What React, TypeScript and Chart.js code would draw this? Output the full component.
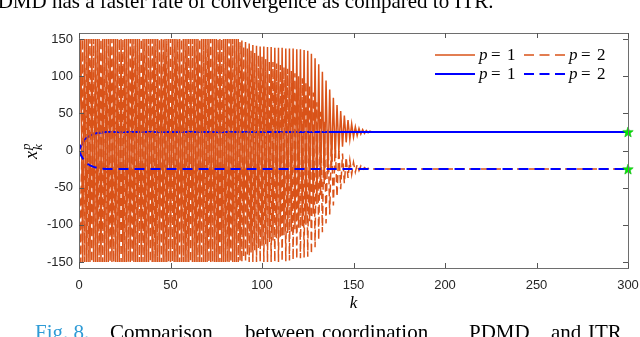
import React, { useEffect, useRef } from "react";
import { Chart, registerables } from "chart.js";

Chart.register(...registerables);

// ---- data ----
const xTicks = [0, 50, 100, 150, 200, 250, 300];
const yTicks = [-150, -100, -50, 0, 50, 100, 150];

// Orange iterates (values at k = 0,1,2,...,160), p = 1 (solid) and p = 2 (dashed)
const orangeP1 = [
  0,
  150, -150, 150, -150, 150, -150, 150, -150, 150, -150, 150, -150, 150, -150, 150, -150, 150, -150, 150, -150,
  150, -150, 150, -150, 150, -150, 150, -150, 150, -150, 150, -150, 150, -150, 150, -150, 150, -150, 150, -150,
  150, -150, 150, -150, 150, -150, 150, -150, 150, -150, 150, -150, 150, -150, 150, -150, 150, -150, 150, -150,
  150, -150, 150, -150, 150, -150, 150, -150, 150, -150, 150, -150, 150, -150, 150, -150, 150, -150, 150, -150,
  150, -150, 150, -150, 150, -150,
  150, -148, 148, -142, 146, -140, 144, -137, 142, -134,
  141, -131, 140, -128, 140, -126, 139, -123, 139, -121,
  138, -118, 138, -116, 138, -114, 137, -111, 137, -109,
  137, -106, 136, -104, 136, -102, 135, -100, 134, -95,
  130, -85, 124, -72, 116, -60, 106, -45, 94, -32,
  82, -20, 71, -10, 61, -2, 53, 5, 47, 11,
  41, 15, 36, 18, 32, 20, 30, 22, 28, 23,
  27, 24, 26, 25,
];
const orangeP2 = [
  0,
  -150, 150, -150, 150, -150, 150, -150, 150, -150, 150, -150, 150, -150, 150, -150, 150, -150, 150, -150, 150,
  -150, 150, -150, 150, -150, 150, -150, 150, -150, 150, -150, 150, -150, 150, -150, 150, -150, 150, -150, 150,
  -150, 150, -150, 150, -150, 150, -150, 150, -150, 150, -150, 150, -150, 150, -150, 150, -150, 150, -150, 150,
  -150, 150, -150, 150, -150, 150, -150, 150, -150, 150, -150, 150, -150, 150, -150, 150, -150, 150, -150, 150,
  -150, 150, -150, 150, -150, 150,
  -150, 146, -150, 140, -150, 137, -150, 134, -150, 131,
  -150, 128, -150, 126, -150, 123, -150, 121, -150, 119,
  -150, 117, -150, 115, -149, 112, -149, 110, -148, 107,
  -147, 104, -146, 100, -145, 97, -144, 93, -143, 88,
  -139, 78, -130, 65, -120, 52, -110, 40, -98, 28,
  -86, 18, -74, 9, -62, 2, -52, -4, -44, -9,
  -37, -13, -32, -16, -29, -19, -27, -21, -26, -23,
  -25, -24, -25, -25,
];
const lastK = 300;
const orangeP1End = 25;
const orangeP2End = -25;

// Blue iterates
const blueK = [0, 1, 2, 3, 4, 5, 6, 8, 10, 12, 15, 20, 300];
const blueP1 = [0, 6, 10.5, 14, 16.5, 18.5, 20, 22, 23.5, 24.3, 24.8, 25, 25];
const blueP2 = [0, -6, -10.5, -14, -16.5, -18.5, -20, -22, -23.5, -24.3, -24.8, -25, -25];

// Green stars (final values)
const starK = [300, 300];
const starY = [25, -25];

const ORANGE = "#D95319";
const BLUE = "#0000FF";
const GREEN = "#00EE00";
const AXIS = "#262626";

function makeStar(size: number, color: string) {
  const c = document.createElement("canvas");
  c.width = size;
  c.height = size;
  const g = c.getContext("2d")!;
  const cx = size / 2, cy = size / 2 + 0.5, R = size / 2 - 0.5, r = R * 0.42;
  g.beginPath();
  for (let i = 0; i < 10; i++) {
    const a = -Math.PI / 2 + (i * Math.PI) / 5;
    const rad = i % 2 === 0 ? R : r;
    g.lineTo(cx + rad * Math.cos(a), cy + rad * Math.sin(a));
  }
  g.closePath();
  g.fillStyle = color;
  g.fill();
  g.strokeStyle = "#00B000";
  g.lineWidth = 0.6;
  g.stroke();
  return c;
}

const decorPlugin = {
  id: "decor",
  afterDatasetsDraw(chart: any) {
    const { ctx, chartArea } = chart;
    const xs = chart.scales.x, ys = chart.scales.y;
    const { left, right, top, bottom } = chartArea;
    ctx.save();
    ctx.strokeStyle = "#6e6e6e";
    ctx.lineWidth = 1;
    ctx.strokeRect(Math.round(left) + 0.5, Math.round(top) + 0.5, Math.round(right - left), Math.round(bottom - top));
    ctx.strokeStyle = "#555";
    ctx.beginPath();
    for (const v of xTicks) {
      const x = Math.round(xs.getPixelForValue(v)) + 0.5;
      ctx.moveTo(x, bottom); ctx.lineTo(x, bottom - 5);
      ctx.moveTo(x, top); ctx.lineTo(x, top + 5);
    }
    for (const v of yTicks) {
      const y = Math.round(ys.getPixelForValue(v)) + 0.5;
      ctx.moveTo(left, y); ctx.lineTo(left + 5, y);
      ctx.moveTo(right, y); ctx.lineTo(right - 5, y);
    }
    ctx.stroke();
    ctx.restore();
  },
  afterDraw(chart: any) {
    const { ctx, chartArea } = chart;
    ctx.save();
    // legend (two rows, two columns)
    const rows = [
      { color: ORANGE, y: 55, w: 1.5 },
      { color: BLUE, y: 74, w: 2 },
    ];
    const drawLabel = (x: number, y: number, num: string) => {
      ctx.fillStyle = "#000";
      ctx.textBaseline = "alphabetic";
      ctx.textAlign = "left";
      ctx.font = "italic 17px 'Liberation Serif', serif";
      ctx.fillText("p", x, y + 5);
      ctx.font = "17px 'Liberation Serif', serif";
      ctx.fillText("=", x + 12, y + 5);
      ctx.fillText(num, x + 28, y + 5);
    };
    for (const r of rows) {
      ctx.strokeStyle = r.color;
      ctx.lineWidth = r.w;
      ctx.setLineDash([]);
      ctx.beginPath();
      ctx.moveTo(435, r.y); ctx.lineTo(475, r.y);
      ctx.stroke();
      drawLabel(479, r.y, "1");
      ctx.setLineDash([10, 5.5]);
      ctx.beginPath();
      ctx.moveTo(524, r.y); ctx.lineTo(566, r.y);
      ctx.stroke();
      ctx.setLineDash([]);
      drawLabel(569, r.y, "2");
    }
    // x title
    ctx.fillStyle = "#000";
    ctx.textAlign = "center";
    ctx.font = "italic 17px 'Liberation Serif', serif";
    ctx.fillText("k", (chartArea.left + chartArea.right) / 2, 308);
    // y title  x_k^p
    ctx.save();
    ctx.translate(37, 151);
    ctx.rotate(-Math.PI / 2);
    ctx.textAlign = "left";
    ctx.font = "italic 18px 'Liberation Serif', serif";
    ctx.fillText("x", -8, 0);
    ctx.font = "italic 13px 'Liberation Serif', serif";
    ctx.fillText("p", 1, -7);
    ctx.fillText("k", 1, 5);
    ctx.restore();
    // surrounding page text (cut by the frame)
    ctx.font = "21px 'Liberation Serif', serif";
    ctx.textAlign = "left";
    ctx.fillStyle = "#000";
    ctx.fillText("PDMD has a faster rate of convergence as compared to ITR.", -14, 8);
    ctx.fillStyle = "#2E9BD6";
    ctx.fillText("Fig. 8.", 35, 339);
    ctx.fillStyle = "#000";
    const words: [string, number][] = [
      ["Comparison", 110], ["between", 245], ["coordination", 322], ["PDMD", 469], ["and", 551], ["ITR", 588],
    ];
    for (const [w, x] of words) ctx.fillText(w, x, 339);
    ctx.restore();
  },
};

export default function App() {
  const ref = useRef<HTMLCanvasElement | null>(null);
  useEffect(() => {
    const canvas = ref.current!;
    const star = makeStar(12, GREEN);
    const o1 = orangeP1.map((v, i) => ({ x: i, y: v })).concat([{ x: lastK, y: orangeP1End }]);
    const o2 = orangeP2.map((v, i) => ({ x: i, y: v })).concat([{ x: lastK, y: orangeP2End }]);
    const b1 = blueK.map((k, i) => ({ x: k, y: blueP1[i] }));
    const b2 = blueK.map((k, i) => ({ x: k, y: blueP2[i] }));
    const st = starK.map((k, i) => ({ x: k, y: starY[i] }));
    const chart = new Chart(canvas, {
      type: "line",
      data: {
        datasets: [
          { label: "stars", data: st, showLine: false, pointStyle: star as any, pointRadius: 6, clip: false as any, order: 0 },
          { label: "blue p=2", data: b2, borderColor: BLUE, borderWidth: 2, borderDash: [10, 6], pointRadius: 0, order: 1 },
          { label: "orange p=2", data: o2, borderColor: ORANGE, borderWidth: 1.5, borderDash: [8, 4], pointRadius: 0, order: 2 },
          { label: "blue p=1", data: b1, borderColor: BLUE, borderWidth: 2, pointRadius: 0, order: 3 },
          { label: "orange p=1", data: o1, borderColor: ORANGE, borderWidth: 1.5, pointRadius: 0, order: 4 },
        ],
      },
      options: {
        responsive: false,
        maintainAspectRatio: false,
        animation: false,
        parsing: false as any,
        normalized: true,
        layout: { padding: { top: 33, right: 12, left: 0, bottom: 0 } },
        elements: { line: { tension: 0, fill: false } },
        plugins: { legend: { display: false }, tooltip: { enabled: false } },
        scales: {
          x: {
            type: "linear",
            min: 0,
            max: 300,
            grid: { display: false, drawTicks: false },
            border: { display: false },
            ticks: {
              autoSkip: false,
              maxRotation: 0,
              padding: 10,
              color: AXIS,
              font: { family: "'Liberation Sans', Arial, sans-serif", size: 13 },
            },
            afterBuildTicks: (s: any) => { s.ticks = xTicks.map((v) => ({ value: v })); },
            afterFit: (s: any) => { s.height = 69; s.paddingLeft = 0; s.paddingRight = 0; },
          },
          y: {
            type: "linear",
            min: -158,
            max: 158,
            grid: { display: false, drawTicks: false },
            border: { display: false },
            ticks: {
              autoSkip: false,
              padding: 6,
              color: AXIS,
              font: { family: "'Liberation Sans', Arial, sans-serif", size: 13 },
            },
            afterBuildTicks: (s: any) => { s.ticks = yTicks.map((v) => ({ value: v })); },
            afterFit: (s: any) => { s.width = 79; s.paddingTop = 0; s.paddingBottom = 0; },
          },
        },
      },
      plugins: [decorPlugin],
    } as any);
    return () => chart.destroy();
  }, []);
  return (
    <div style={{ position: "absolute", left: 0, top: 0, width: 640, height: 337, background: "#fff" }}>
      <canvas ref={ref} width={640} height={337} style={{ display: "block", width: 640, height: 337 }} />
    </div>
  );
}
